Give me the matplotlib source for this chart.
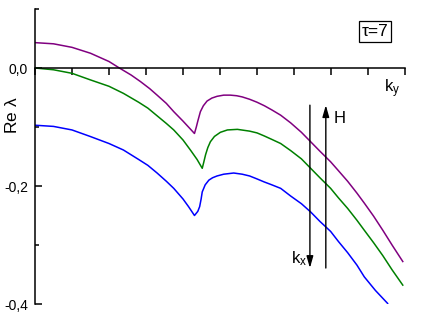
import matplotlib
matplotlib.use("Agg")
import matplotlib.pyplot as plt
from matplotlib.ticker import MultipleLocator, FixedLocator

plt.rcParams['font.family'] = ['Liberation Sans', 'DejaVu Sans']
plt.rcParams['mathtext.fontset'] = 'custom'
plt.rcParams['mathtext.rm'] = 'Liberation Sans'
plt.rcParams['mathtext.default'] = 'regular'

# curves (k_y in tick units, Re lambda)
purple_x = [0, 0.5, 1.0, 1.5, 2.0, 2.28, 2.6, 2.85, 3.1, 3.3, 3.55, 3.75, 4.0, 4.31,
            4.36, 4.40, 4.47, 4.55, 4.65, 4.78, 4.92, 5.1, 5.28, 5.45, 5.6, 5.8, 6.0, 6.2,
            6.4, 6.64, 6.91, 7.2, 7.45, 7.7, 7.99, 8.2, 8.45, 8.7, 8.9, 9.15, 9.4, 9.65, 9.94]
purple_y = [0.043, 0.041, 0.035, 0.025, 0.011, 0.0, -0.012, -0.023, -0.035, -0.046, -0.060,
            -0.074, -0.090, -0.111,
            -0.100, -0.090, -0.074, -0.064, -0.056, -0.051, -0.048, -0.046, -0.046, -0.047,
            -0.049, -0.053, -0.058, -0.064,
            -0.071, -0.080, -0.093, -0.109, -0.125, -0.141, -0.159, -0.174, -0.192, -0.212,
            -0.229, -0.251, -0.275, -0.300, -0.328]

green_x = [0, 0.5, 1.0, 1.49, 2.0, 2.39, 2.8, 3.05, 3.3, 3.55, 3.75, 4.0, 4.2, 4.38, 4.52,
           4.56, 4.61, 4.67, 4.74, 4.85, 5.01, 5.2, 5.47, 5.8, 6.0, 6.19, 6.4, 6.64, 6.91,
           7.2, 7.45, 7.7, 7.99, 8.2, 8.45, 8.7, 8.9, 9.15, 9.4, 9.65, 9.94]
green_y = [0.0, -0.003, -0.009, -0.020, -0.031, -0.043, -0.058, -0.068, -0.081, -0.094, -0.105,
           -0.122, -0.139, -0.155, -0.170,
           -0.160, -0.147, -0.135, -0.125, -0.116, -0.109, -0.105, -0.104, -0.107, -0.110,
           -0.115, -0.121, -0.128, -0.140,
           -0.154, -0.170, -0.186, -0.204, -0.220, -0.238, -0.258, -0.275, -0.296, -0.318,
           -0.342, -0.368]

blue_x = [0, 0.5, 1.0, 1.49, 2.0, 2.39, 2.8, 3.05, 3.3, 3.55, 3.75, 4.0, 4.15, 4.31,
          4.40, 4.45, 4.49, 4.52, 4.6, 4.7, 4.8, 4.92, 5.1, 5.37, 5.6, 5.8, 6.0, 6.19, 6.4,
          6.64, 6.91, 7.2, 7.45, 7.7, 7.99, 8.2, 8.45, 8.7, 8.9, 9.2, 9.53]
blue_y = [-0.097, -0.099, -0.105, -0.116, -0.128, -0.139, -0.155, -0.165, -0.178, -0.192,
          -0.204, -0.222, -0.235, -0.250,
          -0.243, -0.235, -0.222, -0.210, -0.198, -0.190, -0.186, -0.183, -0.180, -0.178,
          -0.180, -0.183, -0.188, -0.193, -0.198,
          -0.204, -0.217, -0.230, -0.244, -0.260, -0.277, -0.294, -0.313, -0.334, -0.354,
          -0.377, -0.399]

fig = plt.figure(figsize=(4.36, 3.27), dpi=100)
ax = fig.add_axes([35/436, 1 - 304/327, 370/436, 295/327])

ax.plot(purple_x, purple_y, color='#800080', lw=1.1)
ax.plot(green_x, green_y, color='#008000', lw=1.1)
ax.plot(blue_x, blue_y, color='#0000ff', lw=1.1)

ax.set_xlim(0, 10)
ax.set_ylim(-0.4, 0.1)

ax.spines['top'].set_visible(False)
ax.spines['right'].set_visible(False)
ax.spines['bottom'].set_position(('data', 0))
ax.spines['left'].set_linewidth(1.1)
ax.spines['bottom'].set_linewidth(1.1)

ax.xaxis.set_major_locator(MultipleLocator(1))
ax.tick_params(axis='x', direction='out', length=5, width=1.1, labelbottom=False)
ax.yaxis.set_major_locator(FixedLocator([-0.4, -0.2, 0.0]))
ax.yaxis.set_minor_locator(FixedLocator([-0.3, -0.1, 0.1]))
ax.set_yticklabels(['-0,4', '-0,2', '0,0'])
ax.tick_params(axis='y', which='major', direction='in', length=5, width=1.1,
               labelsize=10, pad=5)
ax.tick_params(axis='y', which='minor', direction='in', length=3, width=1.1)

ax.text(-0.61, -0.080, r'Re $\lambda$', rotation=90, ha='center', va='center',
        fontsize=12.5, clip_on=False)
ax.text(9.43, -0.041, r'k$_y$', fontsize=12, va='baseline', ha='left', clip_on=False)
ax.text(6.91, -0.331, r'k$_x$', fontsize=12, va='baseline', ha='left')
ax.text(8.08, -0.093, 'H', fontsize=12, va='baseline', ha='left')
ax.text(9.2, 0.062, 'τ=7', fontsize=12.5, ha='center', va='center',
        bbox=dict(boxstyle='square,pad=0.15', fc='white', ec='black', lw=0.9))

arrow = dict(arrowstyle='-|>,head_length=0.7,head_width=0.2', color='black', lw=1,
             mutation_scale=10, shrinkA=0, shrinkB=0)
ax.annotate('', xy=(7.43, -0.339), xytext=(7.43, -0.063), arrowprops=arrow)
ax.annotate('', xy=(7.86, -0.063), xytext=(7.86, -0.339), arrowprops=arrow)

fig.savefig('out.png', dpi=100)
